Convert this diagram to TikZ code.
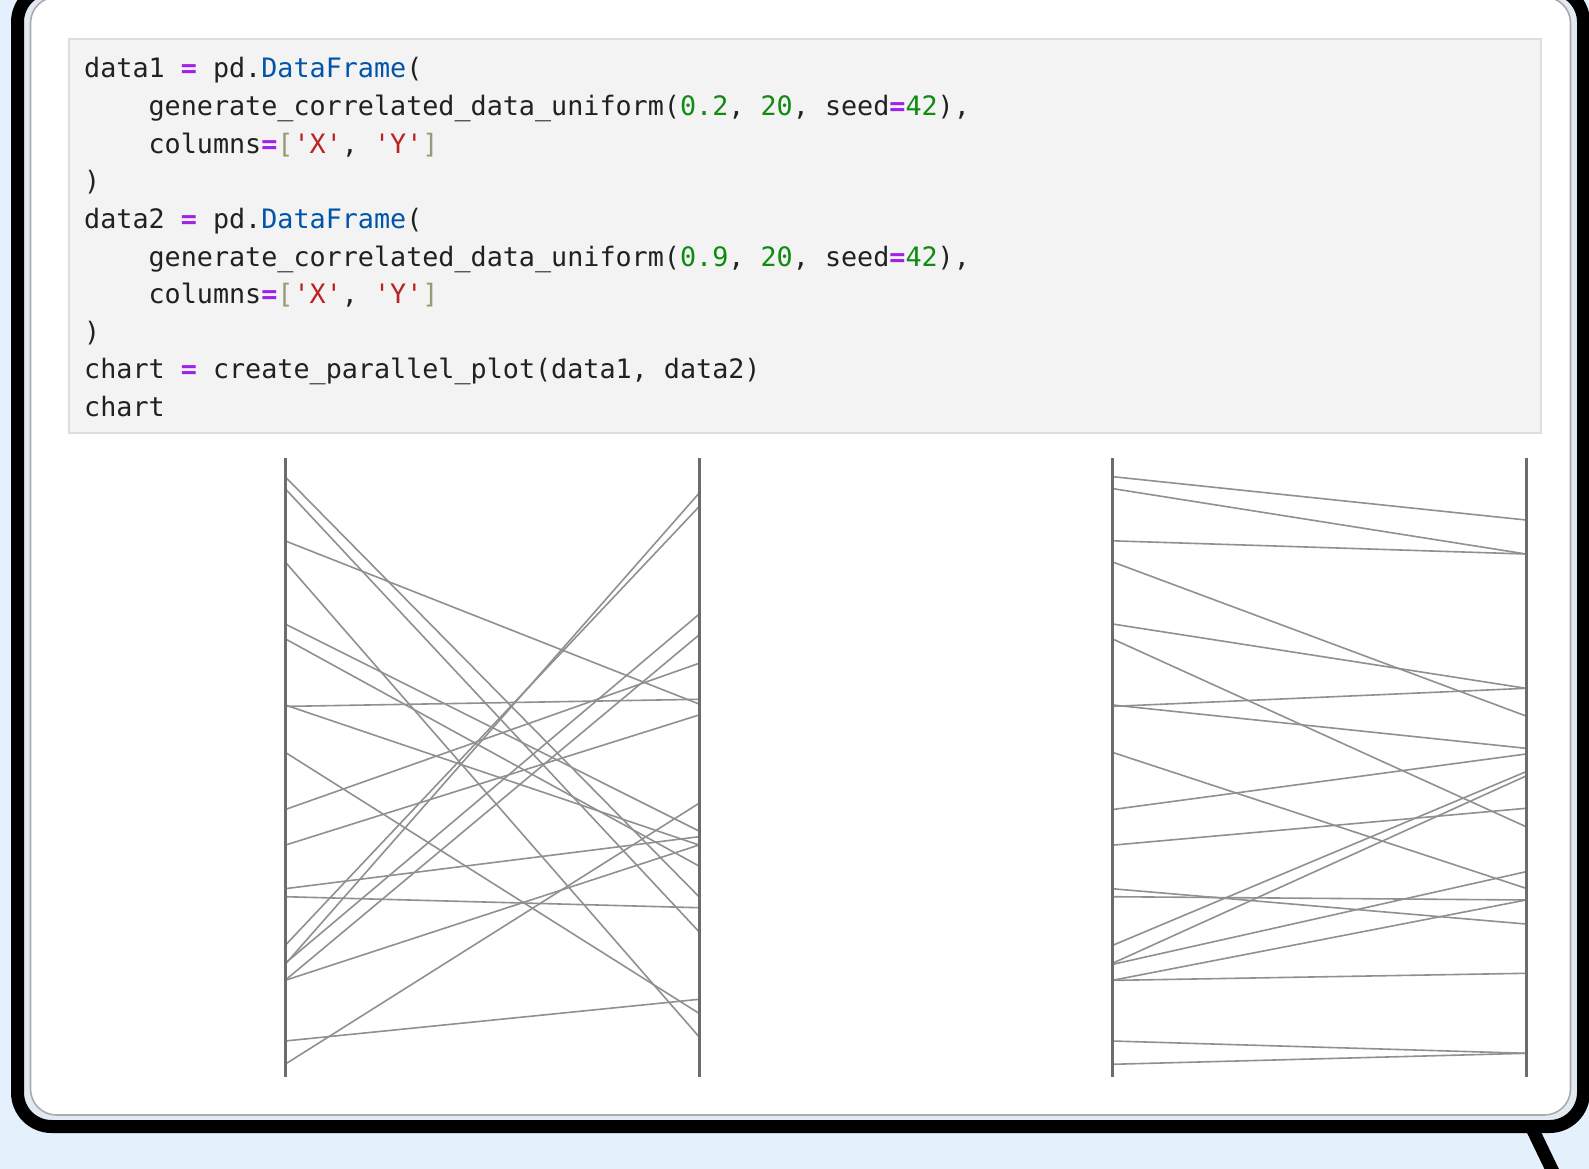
\documentclass[tikz,border=0pt]{standalone}
\usepackage{fontspec}
\newfontfamily\codefont{DejaVu Sans Mono}
\definecolor{pagebg}{HTML}{E4F0FB}
\definecolor{rimfill}{HTML}{E2E9F0}
\definecolor{cardrim}{HTML}{ABABAB}
\definecolor{codebg}{HTML}{F3F3F3}
\definecolor{codeborder}{HTML}{DEDEDE}
\definecolor{codetext}{HTML}{212121}
\definecolor{opcol}{HTML}{A021E8}
\definecolor{propcol}{HTML}{0055AA}
\definecolor{numcol}{HTML}{108A10}
\definecolor{strcol}{HTML}{BA2121}
\definecolor{brcol}{HTML}{999977}
\definecolor{axisgray}{HTML}{6C6C6C}
\definecolor{linegray}{HTML}{909090}
\newcommand\sq{\char"27\relax}
\newcommand\op[1]{{\bfseries\color{opcol}#1}}
\newcommand\prop[1]{{\color{propcol}#1}}
\newcommand\num[1]{{\color{numcol}#1}}
\newcommand\str[1]{{\color{strcol}#1}}
\newcommand\br[1]{{\color{brcol}#1}}
\begin{document}
\begin{tikzpicture}[x=1pt,y=-1pt,
  codeline/.style={anchor=base west, inner sep=0pt, text=codetext,
    font=\codefont\fontsize{26.75}{37.6}\selectfont\frenchspacing},
  axisline/.style={draw=axisgray, line width=3pt},
  dataline/.style={draw=linegray, line width=1.6pt},
  bubble/.style={draw=black, line width=13pt, fill=rimfill, rounded corners=34pt},
  card/.style={draw=cardrim, line width=1.6pt, fill=white, rounded corners=26pt},
  codebox/.style={draw=codeborder, line width=1.2pt, fill=codebg}]
\useasboundingbox (0,0) rectangle (1589,1169);
\fill[pagebg] (0,0) rectangle (1589,1169);

% speech-bubble outline with its tail
\draw[black, line width=13pt] (1529,1122) -- (1556,1178);
\path[bubble] (17.5,-12) rectangle (1583.5,1126.5);
\path[card] (30.5,-3) rectangle (1570.5,1115);

% code cell
\path[codebox] (69,39) rectangle (1541,433);
\node[codeline] (c1) at (84,78) {data1 \op{=} pd.\prop{DataFrame}(};
\node[codeline] (c2) at (148.4,115.6) {generate\_correlated\_data\_uniform(\num{0.2}, \num{20}, seed\op{=}\num{42}),};
\node[codeline] (c3) at (148.4,153.2) {columns\op{=}\br{[}\str{\sq X\sq}, \str{\sq Y\sq}\br{]}};
\node[codeline] (c4) at (84,190.8) {)};
\node[codeline] (c5) at (84,228.4) {data2 \op{=} pd.\prop{DataFrame}(};
\node[codeline] (c6) at (148.4,266) {generate\_correlated\_data\_uniform(\num{0.9}, \num{20}, seed\op{=}\num{42}),};
\node[codeline] (c7) at (148.4,303.6) {columns\op{=}\br{[}\str{\sq X\sq}, \str{\sq Y\sq}\br{]}};
\node[codeline] (c8) at (84,341.2) {)};
\node[codeline] (c9) at (84,378.8) {chart \op{=} create\_parallel\_plot(data1, data2)};
\node[codeline] (c10) at (84,416.4) {chart};

% parallel plot, correlation 0.2
\foreach \a/\b in {476.6/896.7, 488.5/931.7, 540.8/704, 561.7/1036.7,
    623.9/831, 638.7/866, 706.4/699.3, 704.9/845, 752.2/1013.3,
    809.6/663.3, 845.2/715, 888.7/836.7, 896.7/907.7, 945.6/506.7,
    964.5/493.3, 963.5/614.3, 980.4/635, 980.4/845, 1041/999.3, 1064.3/803.3}
  \draw[dataline] (285,\a) -- (699,\b);
\draw[axisline] (285,458) -- (285,1077);
\draw[axisline] (699,458) -- (699,1077);

% parallel plot, correlation 0.9
\foreach \a/\b in {476.6/520, 488.5/554, 540.8/554, 561.7/716,
    623.9/688.3, 638.7/826.7, 706.4/688.3, 704.9/748.3, 752.2/888.3,
    809.6/754, 845.2/808.3, 888.7/924, 896.7/900, 945.6/771.7,
    963.5/776, 964.5/871.7, 980.4/900, 980.4/973.3, 1041/1053.3, 1064.3/1053.3}
  \draw[dataline] (1112,\a) -- (1526,\b);
\draw[axisline] (1112,458) -- (1112,1077);
\draw[axisline] (1526,458) -- (1526,1077);
\end{tikzpicture}
\end{document}
